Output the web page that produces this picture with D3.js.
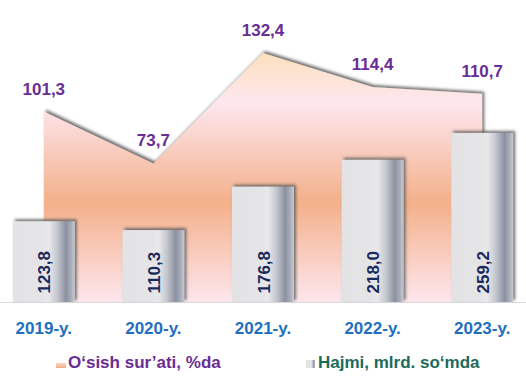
<!DOCTYPE html>
<html>
<head>
<meta charset="utf-8">
<script src="https://cdn.jsdelivr.net/npm/d3@7"></script>
<style>
  html, body { margin: 0; padding: 0; background: #ffffff; }
  svg { display: block; font-family: "Liberation Sans", Arial, sans-serif; font-weight: bold; }
</style>
</head>
<body>
<svg id="chart" width="526" height="387"></svg>
<script>
const categories = ["2019-y.", "2020-y.", "2021-y.", "2022-y.", "2023-y."];
const growthRate = [101.3, 73.7, 132.4, 114.4, 110.7];   // O‘sish sur’ati, %da
const volume = [123.8, 110.3, 176.8, 218.0, 259.2];      // Hajmi, mlrd. so‘mda
const growthLabels = ["101,3", "73,7", "132,4", "114,4", "110,7"];
const volumeLabels = ["123,8", "110,3", "176,8", "218,0", "259,2"];
const legendLabels = ["O‘sish sur’ati, %da", "Hajmi, mlrd. so‘mda"];

const svg = d3.select("#chart");
const baseY = 302;

const x = d3.scaleBand().domain(categories).range([-11, 537])
  .paddingInner(0.435).paddingOuter(0.2175);
const cx = d => x(d) + x.bandwidth() / 2;
const yBar = d3.scaleLinear().domain([0, 463]).range([baseY, 0]);
const yLine = d3.scaleLinear().domain([0, 160.6]).range([baseY, 0]);

const defs = svg.append("defs");
const shadow = defs.append("filter").attr("id", "shadow")
  .attr("x", "-10%").attr("y", "-10%").attr("width", "120%").attr("height", "120%");
shadow.append("feDropShadow").attr("dx", 2).attr("dy", -2).attr("stdDeviation", 1.4)
  .attr("flood-color", "#5a5a5a").attr("flood-opacity", 0.85);

const areaGrad = defs.append("linearGradient").attr("id", "areaGrad")
  .attr("gradientUnits", "userSpaceOnUse")
  .attr("x1", 0).attr("x2", 0)
  .attr("y1", yLine(d3.max(growthRate))).attr("y2", baseY);
[[0, "#fde0be"], [0.2, "#fde7ef"], [0.6, "#f3b08a"], [1, "#fde6ed"]].forEach(([o, c]) =>
  areaGrad.append("stop").attr("offset", o).attr("stop-color", c));

const barGrad = defs.append("linearGradient").attr("id", "barGrad")
  .attr("x1", 0).attr("x2", 1).attr("y1", 0).attr("y2", 0);
[[0, "#e3e3e5"], [0.5, "#e5e5e7"], [0.58, "#e9e9ec"], [0.72, "#c3c6ce"],
 [0.86, "#8c91a1"], [0.94, "#a9adb9"], [1, "#c9ccd4"]].forEach(([o, c]) =>
  barGrad.append("stop").attr("offset", o).attr("stop-color", c));

const legGrad1 = defs.append("linearGradient").attr("id", "legGrad1")
  .attr("x1", 0).attr("x2", 0).attr("y1", 0).attr("y2", 1);
[[0, "#fbd8c4"], [1, "#f2ac86"]].forEach(([o, c]) =>
  legGrad1.append("stop").attr("offset", o).attr("stop-color", c));

// area (growth rate)
const area = d3.area()
  .x((d, i) => cx(categories[i]))
  .y0(baseY)
  .y1(d => yLine(d));
svg.append("path").datum(growthRate)
  .attr("d", area)
  .attr("fill", "url(#areaGrad)")
  .attr("filter", "url(#shadow)");

// baseline
svg.append("line").attr("x1", 0).attr("x2", 526)
  .attr("y1", baseY + 0.5).attr("y2", baseY + 0.5)
  .attr("stroke", "#d9d9d9").attr("stroke-width", 1);

// bars (volume)
svg.selectAll("rect.bar").data(volume).join("rect")
  .attr("class", "bar")
  .attr("x", (d, i) => x(categories[i]))
  .attr("width", x.bandwidth())
  .attr("y", d => yBar(d))
  .attr("height", d => baseY - yBar(d))
  .attr("fill", "url(#barGrad)")
  .attr("filter", "url(#shadow)");

// bar labels (rotated)
svg.selectAll("text.barlab").data(volumeLabels).join("text")
  .attr("class", "barlab")
  .attr("transform", (d, i) => `translate(${cx(categories[i]) + 1},${baseY - 8.5}) rotate(-90)`)
  .attr("text-anchor", "start")
  .attr("dominant-baseline", "central")
  .attr("font-size", 17)
  .attr("fill", "#1b2a5c")
  .text(d => d);

// growth labels
svg.selectAll("text.glab").data(growthRate).join("text")
  .attr("class", "glab")
  .attr("x", (d, i) => cx(categories[i]))
  .attr("y", d => yLine(d) - 17)
  .attr("text-anchor", "middle")
  .attr("font-size", 17)
  .attr("fill", "#6a2d96")
  .text((d, i) => growthLabels[i]);

// category axis
const xAxis = svg.append("g").attr("transform", `translate(0,${baseY})`)
  .call(d3.axisBottom(x).tickSize(0).tickPadding(0));
xAxis.select(".domain").remove();
xAxis.selectAll("text")
  .attr("y", 32).attr("dy", 0)
  .attr("font-size", 17)
  .attr("font-family", "'Liberation Sans', Arial, sans-serif")
  .attr("font-weight", "bold")
  .attr("fill", "#1f6fc0");

// legend
const leg = svg.append("g");
leg.append("rect").attr("x", 56).attr("y", 363).attr("width", 10).attr("height", 5)
  .attr("fill", "url(#legGrad1)");
leg.append("text").attr("x", 68).attr("y", 368).attr("font-size", 17)
  .attr("fill", "#6a2d96").text(legendLabels[0]);
leg.append("rect").attr("x", 306).attr("y", 360).attr("width", 9).attr("height", 8)
  .attr("fill", "url(#barGrad)");
leg.append("text").attr("x", 318).attr("y", 368).attr("font-size", 17)
  .attr("fill", "#1a6b5c").text(legendLabels[1]);
</script>
</body>
</html>
